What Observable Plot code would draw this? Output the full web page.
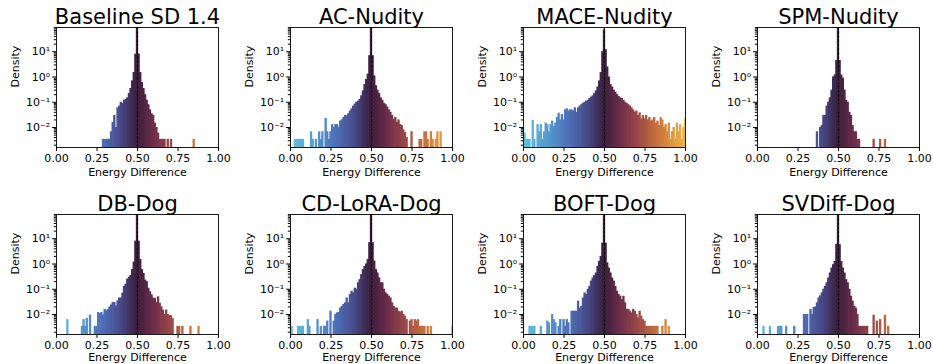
<!DOCTYPE html>
<html>
<head>
<meta charset="utf-8">
<script src="https://cdn.jsdelivr.net/npm/d3@7"></script>
<script src="https://cdn.jsdelivr.net/npm/@observablehq/plot@0.6"></script>
<style>
  body { margin: 0; background: #fff; }
  #fig { position: relative; width: 933px; height: 364px; overflow: hidden; background: #fff; font-family: "DejaVu Sans", sans-serif; }
  #fig svg { position: absolute; overflow: visible; }
</style>
</head>
<body>
<div id="fig"></div>
<script>
// ---------- data ----------
const titles = ["Baseline SD 1.4", "AC-Nudity", "MACE-Nudity", "SPM-Nudity",
                "DB-Dog", "CD-LoRA-Dog", "BOFT-Dog", "SVDiff-Dog"];

// histogram bin centres (bins of width 0.01 over the energy difference)
const binCenters = d3.range(101).map(i => i / 100);

// density per bin (index i -> bin centred at i/100); 0 = empty bin
const baselineSD14 = [
  0,0,0,0,0,0,0,0,0,0,
  0,0,0,0,0,0,0,0,0,0,
  0,0,0,0,0,0,0,0,0,.0034,
  .0034,.0034,.0034,.0034,.0068,.016,.03,.01,.06,.07,
  .1,.09,.12,.13,.15,.22,.35,.7,1.5,8,
  90,8,1.5,.6,.35,.2,.12,.08,.05,.035,
  .03,.015,.01,.006,.0034,.0034,.0034,.0034,0,.0034,
  0,.0034,0,0,0,0,0,0,0,0,
  0,0,0,0,0,.0034,0,0,0,0,
  0,0,0,0,0,0,0,0,0,0,
  0];
const acNudity = [
  0,0,0,.0034,.0034,.0034,.0034,.0034,.0034,0,
  0,0,0,.0068,.0034,0,.0034,0,.0068,.0034,
  .0068,0,.023,.0068,.0034,.0068,.013,.01,.013,.013,
  .01,.018,.02,.025,.03,.029,.035,.045,.055,.07,
  .085,.1,.11,.13,.18,.28,.5,.8,1.3,7,
  90,7,1.1,.45,.3,.22,.15,.12,.09,.08,
  .065,.05,.04,.03,.021,.025,.016,.02,.013,.012,
  .008,.0063,.004,0,0,.0068,0,0,0,0,
  .0034,.0034,0,.0068,.0068,.0034,0,.0068,.0034,0,
  .0034,.0068,0,.0068,0,0,0,0,0,0,
  0];
const maceNudity = [
  .011,.006,.0034,.0034,.0034,0,.019,.0034,0,.013,
  .0068,.013,.0034,.0068,.015,.013,.0068,.013,.018,.011,
  .015,.025,.037,.02,.033,.02,.05,.055,.045,.05,
  .05,.045,.06,.04,.06,.07,.08,.09,.1,.11,
  .12,.14,.16,.18,.22,.28,.4,.7,1.5,10,
  75,12,2.5,1,.5,.4,.3,.25,.2,.17,
  .15,.14,.12,.1,.09,.08,.07,.06,.05,.04,
  .045,.03,.038,.022,.03,.022,.03,.02,.025,.018,
  .02,.025,.015,.018,.012,.025,.02,.01,.013,.0068,
  .015,.0034,.0068,.01,.0034,.015,.0068,.013,.0034,.01,
  .022];
const spmNudity = [
  0,0,0,0,0,0,0,0,0,0,
  0,0,0,0,0,0,0,0,0,0,
  0,0,0,0,0,0,0,0,0,0,
  0,0,0,0,0,0,0,.0068,0,.01,
  .012,.03,.03,.07,.1,.15,.3,1,1.2,4.5,
  90,4.5,1.2,.9,.3,.12,.1,.04,.03,.012,
  .0068,.0068,.0034,.0034,0,0,0,0,0,0,
  0,0,.0034,0,0,0,.0034,0,0,.0034,
  0,0,0,0,0,0,0,0,0,0,
  0,0,0,0,0,0,0,0,0,0,
  0];
const dbDog = [
  0,0,0,0,0,0,0,.0063,0,0,
  0,0,0,0,0,0,.0034,.0063,.0034,.007,
  0,.0096,0,0,.0034,.0034,.012,.011,.012,.0096,
  .016,.014,.016,.02,.024,.03,.03,.022,.035,.045,
  .045,.07,.13,.16,.25,.3,.35,.6,1.2,8,
  90,8,1.5,.6,.42,.23,.2,.11,.08,.06,
  .045,.043,.03,.05,.028,.02,.015,.01,.015,.01,
  .009,.009,.0068,0,0,.0034,.0034,0,.0034,0,
  0,0,0,.0034,0,0,0,0,.0034,0,
  0,0,0,0,0,0,0,0,0,0,
  0];
const cdLoraDog = [
  .0124,.0034,0,0,0,.0034,.0034,.0034,.0034,0,
  0,.0063,.0034,0,0,0,0,.0063,0,.0034,
  0,.0034,.0034,.0055,0,.0135,0,.0055,.01,.0116,
  .012,.018,.021,.025,.029,.045,.029,.062,.083,.072,
  .11,.1,.18,.24,.38,.6,.8,1,1.5,7,
  90,7,1.3,.6,.44,.28,.18,.18,.1,.072,
  .062,.053,.045,.029,.021,.018,.018,.0135,.0124,.0135,
  .01,.0086,.0063,0,.0055,.0063,.0034,.0063,.0055,.0063,
  .0034,.0034,.0034,.0034,0,.0034,0,.0034,0,0,
  0,0,0,0,0,0,0,0,0,0,
  .0034];
const boftDog = [
  .0034,0,0,0,.0034,.0034,.0034,.0034,0,0,
  0,.0034,0,0,0,.0055,.0047,0,.01,.0063,
  .0047,0,.0034,.0063,0,.0063,.0034,.0063,.0047,0,
  .0135,.0135,.0135,.0135,.034,.018,.021,.045,.072,.062,
  .1,.13,.21,.28,.35,.44,.81,1.27,2,6.7,
  90,6.7,1.1,.69,.44,.28,.21,.13,.083,.062,
  .053,.039,.053,.029,.016,.016,.0135,.0116,.016,.0135,
  .01,.0074,.0135,.0086,.0063,.0055,.0034,.0034,.0034,.0034,
  .0034,.0034,.0034,.0034,0,0,.0034,0,.0063,0,
  .0034,0,0,0,0,0,0,0,0,0,
  0];
const svdiffDog = [
  0,0,0,0,.0034,0,0,0,.0034,0,
  0,0,0,.0034,.0034,.0034,0,0,.0034,0,
  0,0,0,.0034,0,0,0,0,0,.01,
  .01,.01,0,.0157,.01,.019,.02,.029,.045,.055,
  .072,.1,.13,.18,.28,.44,.69,.94,1.27,6,
  90,5.8,1.27,.69,.44,.24,.18,.1,.053,.034,
  .021,.018,.01,.0034,.0034,.0034,.0034,.0034,.0034,0,
  0,0,.0094,0,.0055,0,.0063,0,0,.0094,
  0,.0034,0,0,0,0,0,0,0,0,
  0,0,0,0,0,0,0,0,0,0,
  0];

const seriesList = [baselineSD14, acNudity, maceNudity, spmNudity,
                    dbDog, cdLoraDog, boftDog, svdiffDog];

const xTicks = [0, 0.25, 0.5, 0.75, 1];
const xTickLabels = ["0.00", "0.25", "0.50", "0.75", "1.00"];
const yTicks = [0.01, 0.1, 1, 10];
const yTickLabels = ["10\u207B\u00B2", "10\u207B\u00B9", "10\u2070", "10\u00B9"];
const xLabel = "Energy Difference";
const yLabel = "Density";
const refLine = 0.5;

// ---------- layout / style ----------
const binWidth = 0.01;
const yDomain = [0.00162, 91];
const minorTicks = [];
for (const e of [-3, -2, -1, 0, 1]) for (let m = 2; m <= 9; m++) {
  const v = m * Math.pow(10, e);
  if (v > yDomain[0] && v < yDomain[1]) minorTicks.push(v);
}
const frameLefts = [56, 289.7, 523.3, 757.3];
const frameTops = [26.7, 214];
const frameW = 162, frameH = 120;
const colorDomain = [0, 0.1, 0.2, 0.3, 0.4, 0.5, 0.6, 0.7, 0.8, 0.9, 1];
const colorRange = ["#60c4dc", "#58a9d6", "#518bc8", "#4c6bb2", "#474a8a", "#3b1d3c",
                    "#6b2d4a", "#974547", "#bd6640", "#db8d3a", "#ebb545"];

const fig = document.getElementById("fig");
seriesList.forEach((vals, k) => {
  const r = Math.floor(k / 4), c = k % 4;
  const rows = vals.map((v, i) => ({center: binCenters[i], density: v})).filter(d => d.density > 0);
  const mL = 56, mT = 27, mR = 14, mB = r === 0 ? 40 : 30;
  const svg = Plot.plot({
    width: mL + frameW + mR,
    height: mT + frameH + mB,
    marginLeft: mL, marginRight: mR, marginTop: mT, marginBottom: mB,
    style: {fontFamily: "DejaVu Sans, sans-serif", fontSize: "11px", background: "transparent", color: "black"},
    x: {domain: [0, 1]},
    y: {type: "log", domain: yDomain},
    color: {type: "linear", domain: colorDomain, range: colorRange, interpolate: "rgb"},
    marks: [
      Plot.rect(rows, {
        x1: d => d.center - binWidth / 2,
        x2: d => d.center + binWidth / 2,
        y1: () => yDomain[0],
        y2: d => Math.min(d.density, yDomain[1]),
        fill: d => d.center,
        insetLeft: -0.35, insetRight: -0.35,
        clip: true
      }),
      Plot.ruleX([refLine], {stroke: "black", strokeWidth: 1, strokeDasharray: "2.6,1.6"}),
      Plot.frame({stroke: "black", strokeWidth: 0.9}),
      Plot.axisX({ticks: xTicks, tickFormat: d => xTickLabels[xTicks.indexOf(d)],
                  tickSize: 3.9, tickPadding: 2.5, fontSize: 11, label: null}),
      Plot.axisY({ticks: yTicks, tickFormat: d => yTickLabels[yTicks.indexOf(d)],
                  tickSize: 3.9, tickPadding: 2.5, fontSize: 11, label: null}),
      Plot.axisY({ticks: minorTicks, tickFormat: () => "", tickSize: 2.2, label: null}),
      Plot.text([titles[k]], {text: d => d, frameAnchor: "top", lineAnchor: "bottom", dy: -4, fontSize: 21}),
      Plot.text([xLabel], {text: d => d, frameAnchor: "bottom", lineAnchor: "middle", dy: r === 0 ? 25 : 22.5, fontSize: 11}),
      Plot.text([yLabel], {text: d => d, frameAnchor: "left", rotate: -90, dx: -41, fontSize: 11})
    ]
  });
  svg.style.left = (frameLefts[c] - mL) + "px";
  svg.style.top = (frameTops[r] - mT) + "px";
  fig.appendChild(svg);
});
</script>
</body>
</html>
